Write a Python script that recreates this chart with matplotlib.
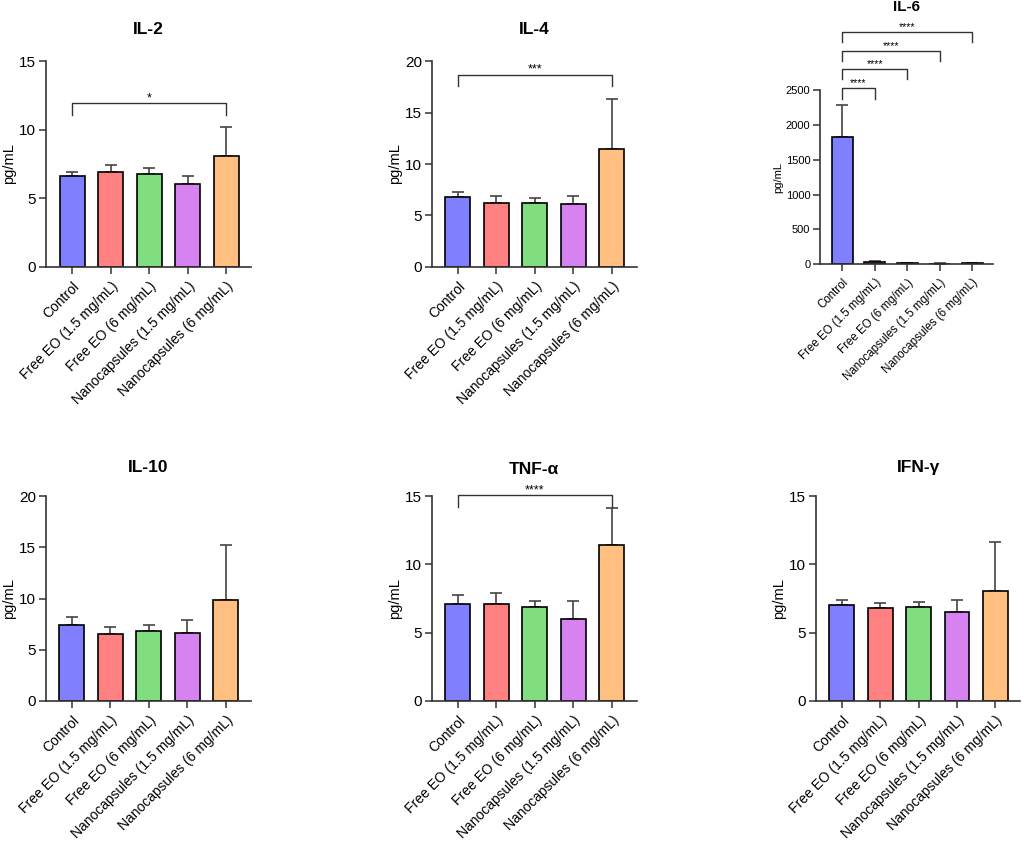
import matplotlib
matplotlib.use('Agg')
import matplotlib.pyplot as plt

plt.rcParams['font.family'] = ['Liberation Sans', 'DejaVu Sans']

groups = ['Control', 'Free EO (1.5 mg/mL)', 'Free EO (6 mg/mL)',
          'Nanocapsules (1.5 mg/mL)', 'Nanocapsules (6 mg/mL)']
colors = ['#8080ff', '#ff8080', '#80de80', '#d682f0', '#ffbf80']

# mean values and upper SD
il2_mean = [6.62, 6.94, 6.74, 6.01, 8.08]
il2_err = [0.33, 0.46, 0.44, 0.64, 2.12]
il4_mean = [6.79, 6.2, 6.2, 6.1, 11.43]
il4_err = [0.48, 0.72, 0.46, 0.75, 4.93]
il6_mean = [1828, 30, 8, 5, 8]
il6_err = [466, 15, 3, 3, 3]
il10_mean = [7.38, 6.53, 6.8, 6.67, 9.85]
il10_err = [0.78, 0.65, 0.65, 1.23, 5.35]
tnf_mean = [7.12, 7.1, 6.9, 6.0, 11.39]
tnf_err = [0.66, 0.83, 0.44, 1.34, 2.73]
ifn_mean = [7.0, 6.8, 6.9, 6.49, 8.05]
ifn_err = [0.37, 0.35, 0.34, 0.9, 3.58]

# significance brackets: (group a, group b, y, tick length, stars)
il2_sig = [(0, 4, 11.95, 0.85, '*')]
il4_sig = [(0, 4, 18.7, 1.1, '***')]
il6_sig = [(0, 1, 2529, 150, '****'), (0, 2, 2802, 145, '****'),
           (0, 3, 3066, 145, '****'), (0, 4, 3340, 150, '****')]
tnf_sig = [(0, 4, 15.07, 0.87, '****')]

W, H = 1024, 844
fig = plt.figure(figsize=(W / 100, H / 100), dpi=100)

XLIM = (-0.68, 4.65)


def make_panel(left, top, bottom, spacing, title, title_y, mean, err,
               ymax, yticks, sig=None, small=False):
    width = spacing * (XLIM[1] - XLIM[0])
    ax = fig.add_axes([left / W, 1 - bottom / H, width / W, (bottom - top) / H])
    x = range(len(groups))
    fs_tick = 8 if small else 11
    fs_lab = 8.3 if small else 10
    ax.bar(x, mean, width=0.65, color=colors, edgecolor='black', linewidth=1.2,
           zorder=2)
    ax.errorbar(x, mean, yerr=[[0] * len(err), err], fmt='none', ecolor='#444444',
                elinewidth=1.2, capsize=4.5, capthick=1.2, zorder=1)
    ax.set_xlim(*XLIM)
    ax.set_ylim(0, ymax)
    ax.set_yticks(yticks)
    ax.set_xticks(list(x))
    ax.set_xticklabels(groups, rotation=45, ha='right', rotation_mode='anchor',
                       fontsize=fs_lab)
    ax.tick_params(axis='y', labelsize=fs_tick, length=5, width=1.1,
                   color='#333333', pad=2)
    ax.tick_params(axis='x', length=5, width=1.1, color='#333333', pad=4)
    for s in ['top', 'right']:
        ax.spines[s].set_visible(False)
    for s in ['left', 'bottom']:
        ax.spines[s].set_color('#333333')
        ax.spines[s].set_linewidth(1.2)
    ax.set_ylabel('pg/mL', fontsize=8 if small else 10.5, labelpad=2)
    if sig:
        for a, b, y, tl, stars in sig:
            ax.plot([a, a, b, b], [y - tl, y, y, y - tl], color='#333333',
                    linewidth=1.0, clip_on=False)
            ax.annotate(stars, xy=((a + b) / 2, y), xytext=(0, 1.5),
                        textcoords='offset points', ha='center', va='baseline',
                        fontsize=7.5 if small else 9, annotation_clip=False)
    fig.text((left + width / 2) / W, 1 - title_y / H, title, ha='center',
             va='center', fontsize=11 if small else 12.5, fontweight='bold')
    return ax


make_panel(46, 61.3, 266.7, 38.5, 'IL-2', 30, il2_mean, il2_err,
           15, [0, 5, 10, 15], il2_sig)
make_panel(431.7, 61.3, 266.7, 38.5, 'IL-4', 30, il4_mean, il4_err,
           20, [0, 5, 10, 15, 20], il4_sig)
make_panel(820, 90.3, 264, 32.5, 'IL-6', 7, il6_mean, il6_err,
           2500, [0, 500, 1000, 1500, 2000, 2500], il6_sig, small=True)
make_panel(45.7, 496, 701, 38.5, 'IL-10', 468, il10_mean, il10_err,
           20, [0, 5, 10, 15, 20])
make_panel(431.7, 496, 701, 38.5, 'TNF-α', 469, tnf_mean, tnf_err,
           15, [0, 5, 10, 15], tnf_sig)
make_panel(815.7, 496, 701, 38.4, 'IFN-γ', 468, ifn_mean, ifn_err,
           15, [0, 5, 10, 15])

fig.savefig('out.png', dpi=100, facecolor='white')
